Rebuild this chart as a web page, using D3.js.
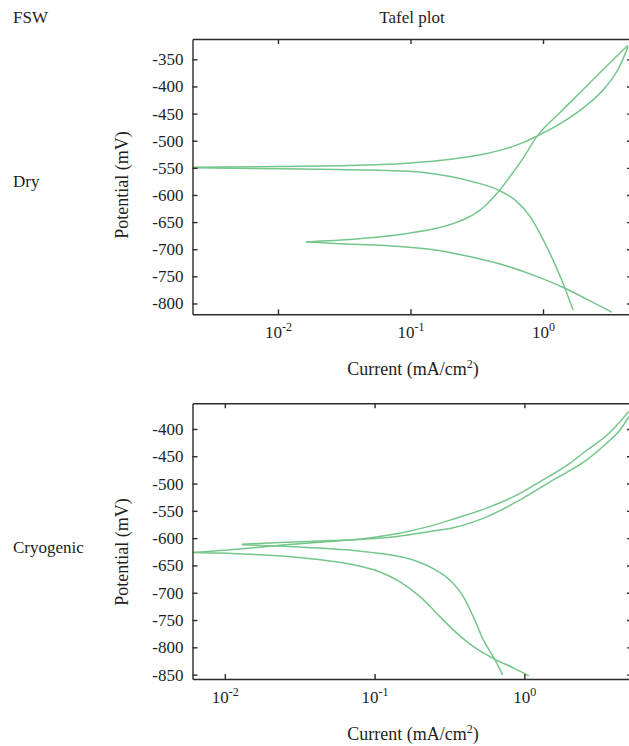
<!DOCTYPE html>
<html>
<head>
<meta charset="utf-8">
<script src="https://cdn.jsdelivr.net/npm/d3@7"></script>
<style>
  body { margin: 0; background: #fff; }
  svg { display: block; font-family: "Liberation Serif", "DejaVu Serif", serif; }
  text { fill: #231f20; }
  .axis path, .axis line { stroke: #2a2a2a; stroke-width: 1.4; }
  .curve { fill: none; stroke: #74c68a; stroke-width: 1.5; }
</style>
</head>
<body>
<svg id="chart" width="629" height="746"></svg>
<script>
(function(){

// ---- data: [current (mA/cm2), potential (mV)] ----
// Dry, first sample (corrosion potential at the left edge)
const dryA_anodic = [[0.00227,-549],[0.01,-547.5],[0.03,-546],[0.06,-544],[0.1,-541],[0.16,-537],[0.25,-531],
  [0.37,-524],[0.5,-516],[0.7,-504],[0.91,-491],[1.3,-471],[2.0,-440],[2.97,-401],[3.75,-365],[4.38,-327]];
const dryA_cathodic = [[0.00227,-550],[0.015,-552],[0.05,-554],[0.09,-556],[0.13,-559],[0.2,-566],
  [0.3,-576],[0.46,-591],[0.62,-610],[0.8,-640],[1.0,-682],[1.2,-722],[1.4,-760],[1.69,-812.6]];
// Dry, second sample
const dryB_anodic = [[0.0163,-686.5],[0.03,-683],[0.06,-677],[0.1,-670],[0.16,-661],[0.22,-651],[0.3,-636],
  [0.37,-619],[0.45,-597],[0.56,-567],[0.7,-534],[0.9,-492],[1.32,-450],[2.1,-401],[2.97,-364],[4.38,-324]];
const dryB_cathodic = [[0.0163,-686.5],[0.0272,-689.5],[0.088,-695.7],[0.158,-701.8],[0.284,-714],[0.51,-729.5],
  [0.916,-751],[1.48,-772.5],[2.21,-794],[3.3,-816]];

// Cryogenic, first sample (corrosion potential at the left edge)
const cryoA_anodic = [[0.00616,-626.5],[0.0126,-620],[0.0233,-613],[0.0503,-606],[0.0841,-601],[0.1406,-592],
  [0.2344,-578],[0.319,-567],[0.56,-545],[0.935,-518],[1.21,-500],[2.01,-463],[2.61,-439],[3.54,-412],[4.99,-368]];
const cryoA_cathodic = [[0.00616,-626.5],[0.0272,-633.9],[0.045,-640],[0.076,-650],[0.1087,-662],[0.148,-680],
  [0.201,-707],[0.273,-743.8],[0.371,-779],[0.481,-803],[0.637,-822],[0.85,-838],[1.07,-852]];
// Cryogenic, second sample
const cryoB_anodic = [[0.01297,-611.2],[0.0233,-608],[0.0503,-604.5],[0.0841,-602],[0.1406,-597],[0.2344,-588],
  [0.335,-581],[0.56,-561],[0.935,-530],[1.56,-493.4],[2.61,-456.8],[3.54,-426.2],[4.35,-401.8],[4.99,-377.5]];
const cryoB_cathodic = [[0.01297,-612],[0.0272,-615.5],[0.076,-623],[0.1087,-628],[0.181,-640],[0.2465,-656],
  [0.319,-677],[0.391,-707],[0.456,-743.8],[0.532,-786.4],[0.637,-823],[0.716,-850.6]];

const currentTicks = [0.01, 0.1, 1];
const currentTickExp = ['-2', '-1', '0'];
const dryPotTicks = [-350,-400,-450,-500,-550,-600,-650,-700,-750,-800];
const cryoPotTicks = [-400,-450,-500,-550,-600,-650,-700,-750,-800,-850];

const svg = d3.select('#chart');

// plain labels
svg.append('text').attr('x', 13).attr('y', 23).attr('font-size', 17).text('FSW');
svg.append('text').attr('x', 412).attr('y', 23).attr('font-size', 17).attr('text-anchor','middle').text('Tafel plot');
svg.append('text').attr('x', 13).attr('y', 187).attr('font-size', 17).text('Dry');
svg.append('text').attr('x', 13).attr('y', 553).attr('font-size', 17).text('Cryogenic');

function panel(id, box, xDom, yDom, yTicks, series, titleY, xTitleY){
  const x = d3.scaleLog().domain(xDom).range([box.left, box.right]);
  const y = d3.scaleLinear().domain(yDom).range([box.bottom, box.top]);

  svg.append('clipPath').attr('id', id)
    .append('rect').attr('x', box.left).attr('y', box.top)
    .attr('width', box.right-box.left).attr('height', box.bottom-box.top);

  // curves
  const line = d3.line().x(d => x(d[0])).y(d => y(d[1])).curve(d3.curveMonotoneX);
  svg.append('g').attr('clip-path', `url(#${id})`)
    .selectAll('path').data(series).join('path')
    .attr('class','curve').attr('d', line);

  // left axis with labels (plain hyphen minus, as in the figure)
  const gl = svg.append('g').attr('class','axis').attr('transform', `translate(${box.left},0)`)
    .call(d3.axisLeft(y).tickValues(yTicks).tickSizeInner(-5).tickSizeOuter(0).tickPadding(9).tickFormat(d => String(d)));
  gl.attr('font-family', null).attr('font-size', 17);
  gl.selectAll('text').attr('fill', '#231f20');

  // right axis, ticks only
  svg.append('g').attr('class','axis').attr('transform', `translate(${box.right},0)`)
    .call(d3.axisRight(y).tickValues(yTicks).tickSizeInner(-4).tickSizeOuter(0).tickFormat(''));

  // top axis, ticks only
  svg.append('g').attr('class','axis').attr('transform', `translate(0,${box.top})`)
    .call(d3.axisTop(x).tickValues(currentTicks).tickSizeInner(-5).tickSizeOuter(0).tickFormat(''));

  // bottom axis with power-of-ten labels
  const gb = svg.append('g').attr('class','axis').attr('transform', `translate(0,${box.bottom})`)
    .call(d3.axisBottom(x).tickValues(currentTicks).tickSizeInner(-5).tickSizeOuter(0).tickFormat(''));
  gb.attr('font-family', null).attr('font-size', 17);
  gb.selectAll('.tick text').remove();
  gb.selectAll('.tick').append('text')
    .attr('y', 24).attr('text-anchor','middle').attr('fill', '#231f20')
    .each(function(d, i){
      const t = d3.select(this);
      t.append('tspan').text('10');
      t.append('tspan').attr('font-size', 12).attr('dy', -7).text(currentTickExp[i]);
    });

  // axis titles
  svg.append('text').attr('font-size', 18)
    .attr('transform', `translate(128,${titleY}) rotate(-90)`)
    .attr('text-anchor','middle').text('Potential (mV)');
  const xt = svg.append('text').attr('font-size', 18).attr('x', 413).attr('y', xTitleY).attr('text-anchor','middle');
  xt.append('tspan').text('Current (mA/cm');
  xt.append('tspan').attr('font-size', 12).attr('dy', -7).text('2');
  xt.append('tspan').attr('dy', 7).text(')');
}

panel('clip-dry', {left:192.5, right:631, top:39, bottom:314.3},
  [Math.pow(10,-2.645), Math.pow(10,0.664)], [-820,-312.5], dryPotTicks,
  [dryA_anodic, dryA_cathodic, dryB_anodic, dryB_cathodic], 185, 375);

panel('clip-cryo', {left:192.5, right:631, top:403.3, bottom:679},
  [Math.pow(10,-2.216), Math.pow(10,0.712)], [-858,-353], cryoPotTicks,
  [cryoA_anodic, cryoA_cathodic, cryoB_anodic, cryoB_cathodic], 552, 740);

})();
</script>
</body>
</html>
